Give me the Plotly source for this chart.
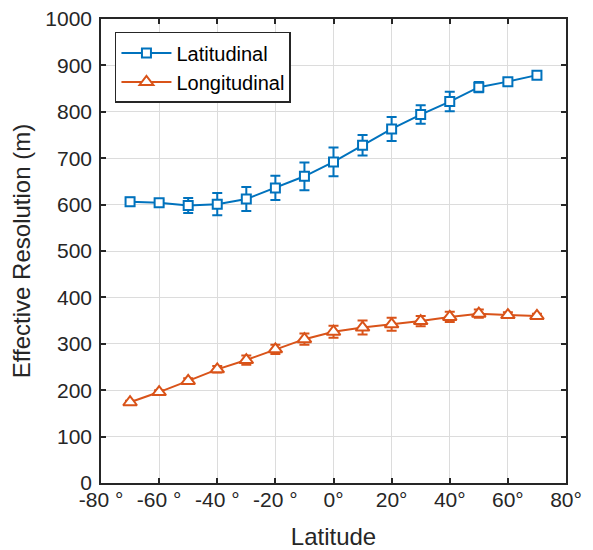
import plotly.graph_objects as go

latitude = [-70, -60, -50, -40, -30, -20, -10, 0, 10, 20, 30, 40, 50, 60, 70]
lat_res = [606, 604, 598, 601, 612, 636, 661, 692, 728, 763, 794, 822, 853, 865, 879]
lat_err = [9, 6, 16, 24, 26, 26, 30, 31, 22, 26, 20, 21, 11, 8, 5]
lon_res = [174, 196, 220, 245, 265, 288, 310, 326, 335, 342, 349, 358, 365, 362, 360]
lon_err = [3, 4, 6, 7, 10, 10, 12, 13, 15, 14, 11, 11, 9, 6, 5]

xtick_vals = [-80, -60, -40, -20, 0, 20, 40, 60, 80]
xtick_text = ["-80 °", "-60 °", "-40 °", "-20 °", "0°", "20°", "40°", "60°", "80°"]
ytick_vals = [0, 100, 200, 300, 400, 500, 600, 700, 800, 900, 1000]

blue = "#0072BD"
orange = "#D95319"
font = "Liberation Sans, Arial, sans-serif"

fig = go.Figure()
fig.add_trace(go.Scatter(
    x=latitude, y=lat_res, name="Latitudinal", mode="lines+markers",
    line=dict(color=blue, width=2),
    marker=dict(symbol="square", size=9, color="white", line=dict(color=blue, width=2)),
    error_y=dict(type="data", array=lat_err, color=blue, thickness=2, width=5),
))
fig.add_trace(go.Scatter(
    x=latitude, y=lon_res, name="Longitudinal", mode="lines+markers",
    line=dict(color=orange, width=2),
    marker=dict(symbol="triangle-up", size=12, color="white", line=dict(color=orange, width=2)),
    error_y=dict(type="data", array=lon_err, color=orange, thickness=2, width=5),
))

axis_common = dict(
    showline=True, linecolor="#262626", linewidth=1.5, mirror="ticks",
    ticks="inside", ticklen=5, tickcolor="#262626", tickwidth=1.5,
    showgrid=True, gridcolor="#DCDCDC", gridwidth=1, zeroline=False,
    tickfont=dict(family=font, size=21, color="#262626"),
    automargin=False, ticklabeloverflow="allow",
)

fig.update_layout(
    width=585, height=542,
    margin=dict(l=93, r=27, t=11, b=67),
    paper_bgcolor="white", plot_bgcolor="white",
    font=dict(family=font, color="#262626"),
    showlegend=True,
    legend=dict(
        x=0.03, y=0.972, xanchor="left", yanchor="top",
        bgcolor="white", bordercolor="#262626", borderwidth=1.5,
        font=dict(family=font, size=20, color="#000000"),
        tracegroupgap=0, itemwidth=50,
    ),
    xaxis=dict(
        range=[-80, 80], tickvals=xtick_vals, ticktext=xtick_text,
        ticklabelstandoff=-3,
        title=dict(text="Latitude", font=dict(family=font, size=24, color="#262626"), standoff=22),
        **axis_common,
    ),
    yaxis=dict(
        range=[0, 1000], tickvals=ytick_vals,
        ticklabelstandoff=3,
        title=dict(text="Effective Resolution (m)", font=dict(family=font, size=24, color="#262626"), standoff=14),
        **axis_common,
    ),
)

fig.write_html("out.html")
